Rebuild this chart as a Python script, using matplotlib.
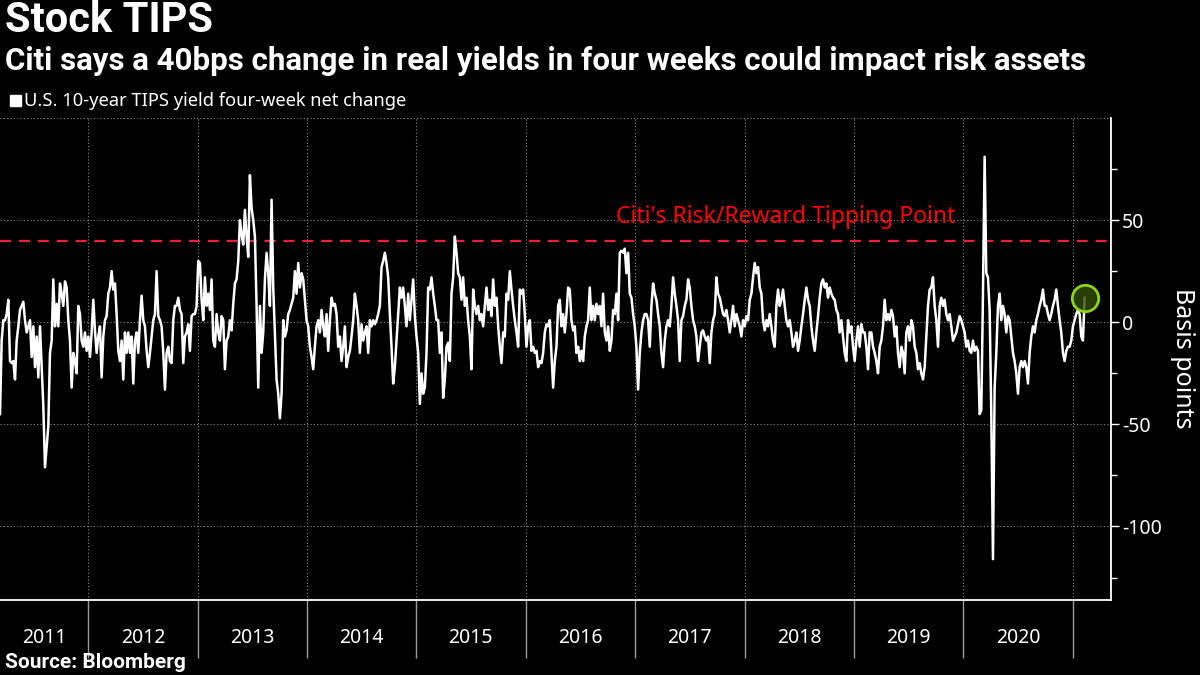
import matplotlib
matplotlib.use("Agg")
import matplotlib.pyplot as plt
import matplotlib.dates as mdates
import matplotlib.ticker as mticker
from matplotlib.patches import Rectangle
import pandas as pd

plt.rcParams['font.family'] = ['Noto Sans', 'DejaVu Sans']
BOLD = ['Roboto', 'DejaVu Sans']

# U.S. 10-year TIPS yield, four-week net change (bps)
# every ~5.6 days, Mar 2011 -> Feb 2021
tips_2011_12 = [-45, -9, 1, 1, 4, 11, -19, -20, -19, -28,
                -9, -2, 6, 8, 10, 1, -5, -2, 1, -17,
                -2, -22, -7, -27, -2, -22, -41, -71, -61, -51,
                -15, -9, 21, -2, 9, -2, 19, 14, 8, 20,
                17, 1, -9, -32, -15, -19, -25, 8, 4, -9,
                -12, -5, -14, -7, -17, -5, 11, -4, -15, -7,
                -2, -27, -7, 1, 3, 14, 17, 25, 16, 19,
                4, -14, -19, -9, -28, -5, -15, -5, -15, -7,
                -30, -9, -5, -15, 1, 13, 1, -2, -14, -22,
                -15, -7, 1, 4, 25, 3, 1, -2, -15, -33,
                -15, -12, -19, -20, 1, 8, 8, 12, 6, 4,
                -20, -7, -5, -1, -14, 3, 4, 4, 8, 30,
                29]
tips_2013_14 = [11, 1, 22, 8, 14, 6, 21, -9, -12, 4,
                -5, -9, 3, 1, -23, -9, -7, 1, -4, 9,
                19, 21, 30, 50, 43, 38, 55, 42, 32, 72,
                56, 50, 42, 8, -32, 8, -15, -5, 21, 34,
                24, 8, 60, 17, -5, -28, -35, -47, -35, 1,
                -7, -4, 4, 6, 9, 12, 25, 14, 29, 17,
                24, 21, 11, 1, -2, -12, -17, -23, -12, -2,
                1, -5, 6, -2, -7, 4, -14, 1, 12, 8,
                9, 4, -12, -7, -19, -12, -2, -22, -17, -14,
                -7, 1, 14, 8, 1, -15, -1, -9, -5, -2,
                -15, 1, -2, 1, -1, 1, 4, 8, 27, 30,
                34, 29, 22, 4]
tips_2015_16 = [-12, -30, -22, -9, 4, 17, 12, 17, 8, -2,
                14, 1, 11, 21, 3, -7, -15, -40, -25, -35,
                -32, -15, 17, 16, 22, 14, 8, 1, 1, -15,
                -5, -37, -28, -12, -10, -19, 14, 22, 42, 34,
                24, 22, 11, 22, 8, 12, 1, -7, -23, 16,
                8, 4, 8, 1, 4, -2, 8, 17, 6, 11,
                3, 21, 8, 12, -2, -12, -20, -5, -7, 14,
                11, 25, 16, 8, 1, -5, -12, 16, 14, 16,
                4, -12, -2, 1, -14, -12, -15, -14, -22, -19,
                -20, -15, -5, -1, -2, 1, -15, -32, -19, -12,
                8, 11, -2, 4, -5, 4, 17, 16, 1, -4,
                -2, -15, -12, -19]
tips_2017_18 = [-14, -19, -7, -2, 1, 17, 1, 8, 1, 9,
                4, 8, -2, 14, -5, -9, -2, -14, -9, 6,
                4, 14, 1, 34, 35, 34, 36, 24, 34, 14,
                12, 4, -2, -12, -33, -15, -5, 1, 4, 4,
                1, -12, 8, 19, 14, 11, 4, -2, -15, -22,
                -9, -2, 1, -2, 8, 22, 14, 8, 1, -19,
                1, 3, 8, 11, 21, 17, 8, 1, -2, -7,
                -19, -12, -5, -4, -7, -9, -7, -20, -5, 1,
                4, 22, 14, 12, 8, 4, 3, 6, 1, -5,
                1, 8, -2, 4, 1, -2, -7, 1, -2, 3,
                1, 11, 14, 22, 29, 24, 27, 17, 14, 1,
                -4, 1, -2, 4]
tips_2018_19 = [-2, -9, -12, 8, 16, 8, 11, 16, 8, 1,
                -2, 1, -5, -12, -9, -5, -14, -9, -2, 4,
                11, 17, 11, 8, -2, -9, -14, -5, 3, 12,
                19, 21, 17, 19, 12, 17, 14, 12, 11, 6,
                4, -5, 1, -7, -15, -19, 1, -5, -2, -12,
                -19, -9, -2, -12, -1, -5, -5, -12, -23, -5,
                -5, -12, -15, -19, -25, -12, -9, -2, 11, 1,
                4, 1, 6, 3, -7, -2, -15, -22, -12, -15,
                -25, -5, -2, -9, 1, -2, -12, -15, -23, -20,
                -25, -28, -22, -7, 8, 16, 17, 22, 8, 1,
                -12, 8, 12, 8, 11, 4, 1, 4, -2, -9,
                -7, -5, -1, 3]
tips_2020_21 = [1, -2, -5, -12, -9, -14, -15, -9, -14, -12,
                -14, -45, -43, 14, 81, 24, 22, 6, -45, -116,
                -32, -15, 8, 14, 1, 8, 4, -5, 3, 1,
                -7, -15, -19, -25, -35, -22, -19, -22, -19, -22,
                -30, -15, -7, -2, -5, 1, 4, 8, 11, 16,
                8, 8, 4, 1, 4, 8, 11, 16, 8, 1,
                -5, -15, -19, -14, -12, -12, -9, -2, 1, 4,
                6, 4, -7, -9, 12]

tips_change = (tips_2011_12 + tips_2013_14 + tips_2015_16 +
               tips_2017_18 + tips_2018_19 + tips_2020_21)
dates = pd.date_range("2011-03-13", "2021-02-09", periods=len(tips_change))

year_labels = [str(y) for y in range(2011, 2021)]
label_dates = [pd.Timestamp("2011-08-07")] + [pd.Timestamp(f"{y}-07-02") for y in range(2012, 2021)]
year_edges = [pd.Timestamp(f"{y}-01-01") for y in range(2012, 2022)]
tipping_point = 40

fig = plt.figure(figsize=(12, 6.75), dpi=100, facecolor='black')
ax = fig.add_axes([0, 0.1111, 0.9258, 0.7141])
ax.set_facecolor('black')

ax.set_xlim(pd.Timestamp("2011-03-13"), pd.Timestamp("2021-05-08"))
ax.set_ylim(-136, 100)

# grid
dotted = (0, (1, 2))
for d in year_edges:
    ax.axvline(d, color='#8a8a8a', lw=0.8, ls=dotted, zorder=1)
for v in [100, 50, 0, -50, -100]:
    ax.axhline(v, color='#8a8a8a', lw=0.8, ls=dotted, zorder=1, clip_on=False)

ax.axhline(tipping_point, color='#e8203a', lw=1.6, ls=(0, (5, 3.5)), zorder=2)
ax.text(pd.Timestamp("2018-05-18"), 51.5, "Citi's Risk/Reward Tipping Point",
        color='#ff0000', ha='center', va='center', fontsize=16.5)

ax.plot(dates, tips_change, color='white', lw=1.8, zorder=3)
ax.plot(dates[-1], tips_change[-1], 'o', ms=19, mfc=(0.2, 0.3, 0.0, 0.8),
        mec='#8fd11f', mew=2, zorder=4)

# spines
for s in ['left', 'top']:
    ax.spines[s].set_visible(False)
for s in ['right', 'bottom']:
    ax.spines[s].set_color('white')
    ax.spines[s].set_linewidth(1.3)

# y axis on the right
ax.yaxis.tick_right()
ax.yaxis.set_major_locator(mticker.FixedLocator([-100, -50, 0, 50]))
ax.yaxis.set_minor_locator(mticker.FixedLocator([-125, -75, -25, 25, 75]))
ax.yaxis.set_major_formatter(mticker.FuncFormatter(lambda v, p: str(int(v))))
ax.tick_params(axis='y', which='major', length=6, width=1, colors='white',
               labelsize=14, pad=2)
ax.tick_params(axis='y', which='minor', length=4, width=1, colors='white')

# x axis: separators at year edges, labels centred in each year
ax.xaxis.set_major_locator(mticker.FixedLocator(mdates.date2num(year_edges)))
ax.xaxis.set_major_formatter(mticker.NullFormatter())
ax.xaxis.set_minor_locator(mticker.FixedLocator(mdates.date2num(label_dates)))
ax.xaxis.set_minor_formatter(mticker.FixedFormatter(year_labels))
ax.tick_params(axis='x', which='major', length=42, width=1, color='#9a9a9a')
ax.tick_params(axis='x', which='minor', length=0, labelcolor='white',
               labelsize=14, pad=20)

fig.text(1183 / 1200, 1 - 358 / 675, "Basis points", rotation=270, color='white',
         ha='center', va='center', fontsize=18)

# titles
fig.text(0.004, 1 - 21 / 675, "Stock TIPS", color='white', fontsize=30,
         fontweight='bold', family=BOLD, va='center', ha='left')
fig.text(0.004, 1 - 61 / 675,
         "Citi says a 40bps change in real yields in four weeks could impact risk assets",
         color='white', fontsize=22.5, fontweight='bold', family=BOLD,
         va='center', ha='left')
fig.patches.append(Rectangle((10 / 1200, 1 - 106 / 675), 11 / 1200, 11 / 675,
                             transform=fig.transFigure, color='white'))
fig.text(24 / 1200, 1 - 100.5 / 675, "U.S. 10-year TIPS yield four-week net change",
         color='white', fontsize=13.2, va='center', ha='left')
fig.text(0.004, 1 - 663 / 675, "Source: Bloomberg", color='white', fontsize=15,
         fontweight='bold', family=BOLD, va='center', ha='left')

fig.savefig("out.png", dpi=100, facecolor='black')
